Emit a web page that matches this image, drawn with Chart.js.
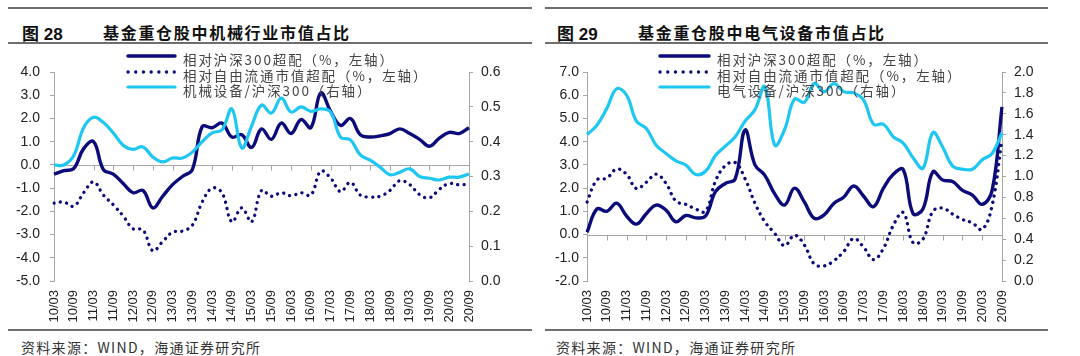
<!DOCTYPE html>
<html><head><meta charset="utf-8">
<script src="https://cdn.jsdelivr.net/npm/chart.js@4/dist/chart.umd.min.js"></script>
<style>
html,body{margin:0;padding:0;background:#fff;}
body{width:1080px;height:356px;overflow:hidden;position:relative;}
.rule{position:absolute;height:2px;background:#6e6e6e;}
.fig{position:absolute;top:20px;line-height:16px;font:bold 17px "Liberation Sans","Noto Sans CJK SC",sans-serif;color:#111;}
.ttx{position:absolute;top:20px;line-height:16px;font:bold 16px "Noto Sans CJK SC",sans-serif;letter-spacing:1.7px;color:#111;}
.src{position:absolute;top:337px;line-height:16px;font:14px "Noto Sans CJK SC",sans-serif;letter-spacing:1.3px;color:#333;}
.leg{position:absolute;line-height:14px;font:13.5px "Noto Sans CJK SC",sans-serif;letter-spacing:1.9px;color:#444;white-space:nowrap;}
.leg svg{position:absolute;top:2px;}
canvas{position:absolute;top:45px;}
</style>
</head><body>
<div class="rule" style="left:8px;top:7px;width:524px"></div>
<div class="rule" style="left:8px;top:42px;width:524px"></div>
<div class="rule" style="left:8px;top:329px;width:524px"></div>
<div class="rule" style="left:545px;top:7px;width:503px"></div>
<div class="rule" style="left:545px;top:42px;width:503px"></div>
<div class="rule" style="left:545px;top:329px;width:503px"></div>
<div class="fig" style="left:22px">图 28</div>
<div class="ttx" style="left:103px">基金重仓股中机械行业市值占比</div>
<div class="fig" style="left:557px">图 29</div>
<div class="ttx" style="left:638px">基金重仓股中电气设备市值占比</div>
<div class="src" style="left:21px">资料来源：WIND，海通证券研究所</div>
<div class="src" style="left:556px">资料来源：WIND，海通证券研究所</div>
<canvas id="c1" width="540" height="285" style="left:0px"></canvas>
<canvas id="c2" width="540" height="285" style="left:540px"></canvas>
<div id="legend1"></div>
<div id="legend2"></div>
<script>
// ---- data ----
const categories = ['10/03','10/06','10/09','10/12','11/03','11/06','11/09','11/12','12/03','12/06','12/09','12/12',
  '13/03','13/06','13/09','13/12','14/03','14/06','14/09','14/12','15/03','15/06','15/09','15/12',
  '16/03','16/06','16/09','16/12','17/03','17/06','17/09','17/12','18/03','18/06','18/09','18/12',
  '19/03','19/06','19/09','19/12','20/03','20/06','20/09'];

// 图28 机械
const mechOverweight = [-0.4,-0.25,-0.15,0.7,1.0,-0.2,-0.4,-0.8,-1.2,-1.1,-1.85,-1.35,
  -0.85,-0.5,-0.2,1.65,1.6,1.8,1.2,1.3,0.75,1.55,1.1,1.8,
  1.35,1.95,1.6,3.1,2.3,1.7,2.0,1.3,1.2,1.25,1.35,1.55,
  1.35,1.1,0.8,1.15,1.4,1.35,1.6];
const mechFreeFloat = [-1.65,-1.6,-1.78,-1.2,-0.73,-1.3,-1.72,-2.2,-2.75,-2.8,-3.7,-3.3,
  -2.9,-2.85,-2.6,-1.6,-1.0,-1.2,-2.45,-1.85,-2.45,-1.1,-1.35,-1.2,
  -1.33,-1.2,-1.3,-0.27,-0.57,-1.15,-0.75,-1.3,-1.38,-1.35,-1.1,-0.68,
  -0.85,-1.28,-1.42,-1.05,-0.8,-0.86,-0.82];
const mechRatio = [0.333,0.333,0.36,0.44,0.47,0.455,0.425,0.39,0.378,0.385,0.356,0.342,
  0.353,0.353,0.37,0.40,0.425,0.434,0.494,0.382,0.445,0.505,0.482,0.525,
  0.485,0.50,0.487,0.494,0.485,0.413,0.405,0.362,0.347,0.327,0.305,0.312,
  0.322,0.30,0.295,0.29,0.298,0.298,0.307];

// 图29 电气设备
const elecOverweight = [0.1,1.1,1.0,1.35,0.8,0.45,0.9,1.27,1.05,0.55,0.82,0.72,
  0.8,1.85,2.2,2.4,4.5,3.0,2.55,1.75,1.27,2.0,1.4,0.7,
  0.85,1.35,1.62,2.09,1.65,1.2,2.0,2.6,2.8,0.9,1.1,2.7,
  2.35,2.28,1.9,1.7,1.3,1.9,5.5];
const elecFreeFloat = [1.4,2.35,2.43,2.82,2.6,1.98,2.25,2.6,2.2,1.44,1.3,1.1,
  1.0,2.3,2.97,3.1,2.4,1.35,0.55,0.05,-0.48,-0.03,-0.45,-1.27,
  -1.35,-1.12,-0.72,-0.17,-0.55,-1.08,-0.6,0.4,0.95,-0.35,-0.2,1.0,
  1.14,0.88,0.65,0.5,0.22,1.25,4.1];
const elecRatio = [1.40,1.49,1.65,1.84,1.78,1.53,1.46,1.30,1.22,1.15,1.11,1.02,
  1.05,1.20,1.29,1.38,1.53,1.64,1.86,1.30,1.45,1.74,1.71,1.89,
  1.81,1.89,1.81,1.80,1.73,1.50,1.50,1.38,1.32,1.18,1.08,1.42,
  1.28,1.10,1.07,1.07,1.16,1.22,1.42];

const legendNames1 = ['相对沪深300超配（%，左轴）','相对自由流通市值超配（%，左轴）','机械设备/沪深300（右轴）'];
const legendNames2 = ['相对沪深300超配（%，左轴）','相对自由流通市值超配（%，左轴）','电气设备/沪深300（右轴）'];
const leftRange1 = [-5, 4, 1], rightRange1 = [0, 0.6, 0.1];
const leftRange2 = [-2, 7, 1], rightRange2 = [0, 2, 0.2];

// ---- styles ----
const NAVY = '#0b0b7a', CYAN = '#1ec6f2', AXIS = '#a6a6a6';
const tickFont = {family:'"Liberation Sans", Arial, sans-serif', size:14};

const zeroLine = {
  id:'zeroLine',
  beforeDatasetsDraw(chart){
    const {ctx, chartArea:a, scales} = chart;
    const x = scales.x, y = scales.y;
    const py = Math.round(y.getPixelForValue(0)) + 0.5;
    ctx.save();
    ctx.strokeStyle = AXIS; ctx.lineWidth = 1;
    ctx.beginPath();
    ctx.moveTo(a.left, py); ctx.lineTo(a.right, py);
    for (let i = 0; i < categories.length; i += 2) {
      const px = Math.round(x.getPixelForValue(i)) + 0.5;
      ctx.moveTo(px, py); ctx.lineTo(px, py + 5);
    }
    ctx.stroke();
    ctx.restore();
  }
};

function makeChart(id, s1, s2, s3, lr, rr, leftW, rightW, leftPad){
  return new Chart(document.getElementById(id), {
    type:'line',
    data:{
      labels:categories,
      datasets:[
        {data:s3, yAxisID:'y2', borderColor:CYAN, borderWidth:3.2, order:0},
        {data:s1, yAxisID:'y', borderColor:NAVY, borderWidth:3.4, order:1},
        {data:s2, yAxisID:'y', borderColor:NAVY, borderWidth:3.3, borderDash:[0.1,6.3], borderCapStyle:'round', order:2}
      ]
    },
    options:{
      responsive:false, animation:false, devicePixelRatio:1,
      layout:{padding:{top:27, left:0, right:0, bottom:0}},
      elements:{point:{radius:0}, line:{tension:0.4, fill:false}},
      plugins:{legend:{display:false}, tooltip:{enabled:false}},
      scales:{
        x:{
          offset:false,
          grid:{display:false, drawTicks:false},
          border:{display:false},
          ticks:{autoSkip:false, minRotation:90, maxRotation:90, padding:9, color:'#222',
            font:{family:'"Liberation Sans", Arial, sans-serif', size:13},
            callback:(v,i)=> i%2===0 ? categories[i] : ''},
          afterFit:s=>{s.height = 49;}
        },
        y:{
          position:'left', min:lr[0], max:lr[1],
          ticks:{stepSize:lr[2], color:'#222', font:tickFont, padding:leftPad, callback:v=>v.toFixed(1)},
          grid:{drawOnChartArea:false, color:AXIS, tickLength:4},
          border:{color:AXIS},
          afterFit:s=>{s.width = leftW;}
        },
        y2:{
          position:'right', min:rr[0], max:rr[1],
          ticks:{stepSize:rr[2], color:'#222', font:tickFont, padding:8, callback:v=>v.toFixed(1)},
          grid:{drawOnChartArea:false, color:AXIS, tickLength:4},
          border:{color:AXIS},
          afterFit:s=>{s.width = rightW;}
        }
      }
    },
    plugins:[zeroLine]
  });
}

makeChart('c1', mechOverweight, mechFreeFloat, mechRatio, leftRange1, rightRange1, 54, 71, 10);
makeChart('c2', elecOverweight, elecFreeFloat, elecRatio, leftRange2, rightRange2, 47, 78, 4);

function makeLegend(id, names, lineX, textX){
  const el = document.getElementById(id);
  const tops = [49, 65, 80];
  names.forEach((n, k)=>{
    const row = document.createElement('div');
    row.className = 'leg';
    row.style.left = lineX + 'px';
    row.style.top = tops[k] + 'px';
    row.style.paddingLeft = (textX - lineX) + 'px';
    const w = textX - lineX - 6;
    let stroke;
    if (k === 0) stroke = `<line x1="2" y1="5" x2="${w-2}" y2="5" stroke="${NAVY}" stroke-width="3.4" stroke-linecap="round"/>`;
    else if (k === 1) stroke = `<line x1="2" y1="5" x2="${w}" y2="5" stroke="${NAVY}" stroke-width="3.3" stroke-dasharray="0.1 7.6" stroke-linecap="round"/>`;
    else stroke = `<line x1="2" y1="5" x2="${w-2}" y2="5" stroke="${CYAN}" stroke-width="3.2" stroke-linecap="round"/>`;
    row.innerHTML = `<svg width="${w+2}" height="10" style="left:0">${stroke}</svg>${n}`;
    el.appendChild(row);
  });
}
makeLegend('legend1', legendNames1, 126, 183);
makeLegend('legend2', legendNames2, 658, 717);
</script>
</body></html>
